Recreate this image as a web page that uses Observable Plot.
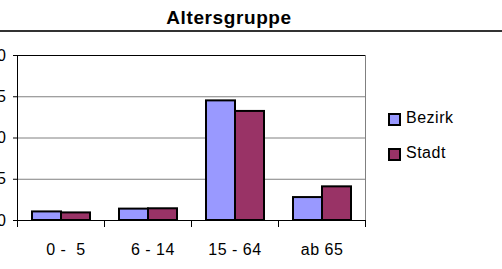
<!DOCTYPE html>
<html><head><meta charset="utf-8">
<script src="https://cdn.jsdelivr.net/npm/d3@7"></script>
<script src="https://cdn.jsdelivr.net/npm/@observablehq/plot@0.6"></script>
<style>
html,body{margin:0;padding:0;background:#fff;overflow:hidden;}
body{width:502px;height:269px;position:relative;font-family:"Liberation Sans",Arial,sans-serif;color:#000;}
#head{position:relative;height:33px;}
#title{position:absolute;left:0;width:458px;top:7px;text-align:center;font-weight:bold;font-size:19px;line-height:22px;letter-spacing:0.6px;}
#rule{position:absolute;left:0;top:30px;width:502px;height:2px;background:#333;}
#chart svg text{white-space:pre;letter-spacing:0.5px;}
.item{position:absolute;left:388px;font-size:16px;line-height:18px;letter-spacing:0.5px;}
.sw{position:absolute;left:0;width:9px;height:9px;border:2px solid #000;}
.lab{position:absolute;left:18px;top:0;white-space:nowrap;}
</style></head>
<body>
<div id="head"><div id="title">Altersgruppe</div><div id="rule"></div></div>
<div id="chart"></div>
<div id="legend"></div>
<script>
const categories = ["  0 -  5", "  6 - 14", "15 - 64", "ab 65"];
const series = ["Bezirk", "Stadt"];
const bezirk = [5.2, 6.9, 72.5, 13.9];
const stadt = [4.6, 7.1, 66.1, 20.4];
const yTicks = [0, 25, 50, 75, 100];
const colors = ["#9999FF", "#993366"];

const data = categories.flatMap((c, i) => [
  {category: c, series: series[0], value: bezirk[i]},
  {category: c, series: series[1], value: stadt[i]}
]);

const chart = Plot.plot({
  width: 502, height: 236,
  marginTop: 22, marginBottom: 49, marginLeft: 16, marginRight: 136,
  style: {fontFamily: '"Liberation Sans", Arial, sans-serif', fontSize: "16px", color: "#000", background: "#fff", overflow: "visible"},
  fx: {domain: categories, padding: 0},
  x: {domain: series, paddingInner: 0, paddingOuter: 0.5, axis: null},
  y: {domain: [0, 100]},
  color: {domain: series, range: colors},
  marks: [
    Plot.ruleY(yTicks.filter(d => d > 0 && d < 100), {stroke: "#808080"}),
    Plot.ruleY([100], {stroke: "#000"}),
    Plot.barY(data, {fx: "category", x: "series", y: "value", fill: "series", stroke: "#000", strokeWidth: 2}),
    Plot.ruleY([0], {stroke: "#000"}),
    Plot.frame({anchor: "left", facetAnchor: "left", stroke: "#000"}),
    Plot.frame({anchor: "right", facetAnchor: "right", stroke: "#808080"}),
    Plot.frame({anchor: "left", insetTop: 165, insetBottom: -6, stroke: "#000"}),
    Plot.frame({anchor: "right", facetAnchor: "right", insetTop: 165, insetBottom: -6, stroke: "#000"}),
    Plot.axisY({ticks: yTicks, tickSize: 4, tickPadding: 7, label: null}),
    Plot.axisFx({anchor: "bottom", tickSize: 0, tickPadding: 23, label: null})
  ]
});
document.getElementById("chart").appendChild(chart);

const legend = document.getElementById("legend");
const tops = [109, 144];
series.forEach((s, i) => {
  const item = document.createElement("div");
  item.className = "item";
  item.style.top = tops[i] + "px";
  const sw = document.createElement("div");
  sw.className = "sw";
  sw.style.top = "4px";
  sw.style.background = colors[i];
  const lab = document.createElement("div");
  lab.className = "lab";
  lab.textContent = s;
  item.appendChild(sw);
  item.appendChild(lab);
  legend.appendChild(item);
});
</script>
</body></html>
